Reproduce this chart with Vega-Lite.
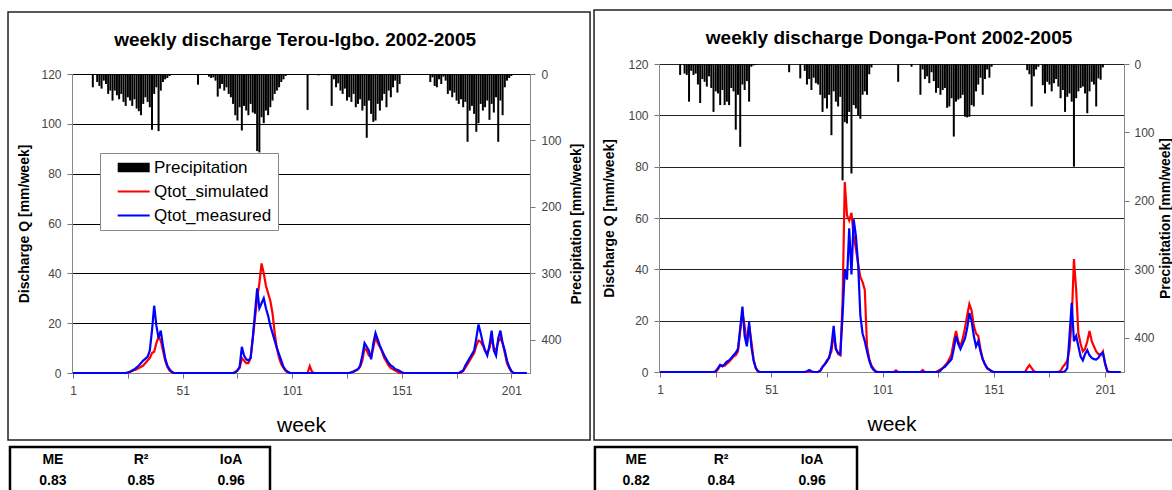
{
"$schema": "https://vega.github.io/schema/vega-lite/v6.json",
"background": "white",
"padding": {"left": 7, "top": 9, "right": 0, "bottom": 0},
"config": {"font": "Liberation Sans", "view": {"stroke": null}},
"datasets": {
"t_p": [{"w":10,"p":20},{"w":12,"p":12},{"w":13,"p":18},{"w":14,"p":22},{"w":15,"p":10},{"w":16,"p":15},{"w":17,"p":30},{"w":18,"p":25},{"w":19,"p":40},{"w":20,"p":25},{"w":21,"p":32},{"w":22,"p":38},{"w":23,"p":30},{"w":24,"p":42},{"w":25,"p":48},{"w":26,"p":35},{"w":27,"p":40},{"w":28,"p":48},{"w":29,"p":38},{"w":30,"p":52},{"w":31,"p":56},{"w":32,"p":62},{"w":33,"p":45},{"w":34,"p":35},{"w":35,"p":42},{"w":36,"p":50},{"w":37,"p":84},{"w":38,"p":30},{"w":39,"p":20},{"w":40,"p":86},{"w":41,"p":25},{"w":42,"p":12},{"w":43,"p":8},{"w":44,"p":6},{"w":45,"p":3},
{"w":58,"p":16},{"w":63,"p":4},{"w":64,"p":6},{"w":65,"p":5},{"w":66,"p":10},{"w":67,"p":34},{"w":68,"p":22},{"w":69,"p":15},{"w":70,"p":25},{"w":71,"p":20},{"w":72,"p":30},{"w":73,"p":35},{"w":74,"p":45},{"w":75,"p":62},{"w":76,"p":70},{"w":77,"p":50},{"w":78,"p":85},{"w":79,"p":48},{"w":80,"p":55},{"w":81,"p":62},{"w":82,"p":45},{"w":83,"p":58},{"w":84,"p":60},{"w":85,"p":116},{"w":86,"p":118},{"w":87,"p":65},{"w":88,"p":74},{"w":89,"p":55},{"w":90,"p":62},{"w":91,"p":50},{"w":92,"p":40},{"w":93,"p":30},{"w":94,"p":25},{"w":95,"p":20},{"w":96,"p":12},{"w":97,"p":8},{"w":98,"p":3},
{"w":108,"p":54},{"w":113,"p":2},
{"w":119,"p":48},{"w":120,"p":8},{"w":121,"p":20},{"w":122,"p":14},{"w":123,"p":25},{"w":124,"p":30},{"w":125,"p":22},{"w":126,"p":40},{"w":127,"p":35},{"w":128,"p":42},{"w":129,"p":30},{"w":130,"p":50},{"w":131,"p":45},{"w":132,"p":38},{"w":133,"p":55},{"w":134,"p":48},{"w":135,"p":96},{"w":136,"p":40},{"w":137,"p":60},{"w":138,"p":72},{"w":139,"p":70},{"w":140,"p":45},{"w":141,"p":55},{"w":142,"p":40},{"w":143,"p":30},{"w":144,"p":50},{"w":145,"p":25},{"w":146,"p":35},{"w":147,"p":20},{"w":148,"p":10},{"w":149,"p":28},{"w":150,"p":15},
{"w":164,"p":12},{"w":165,"p":5},{"w":166,"p":18},{"w":167,"p":20},{"w":168,"p":8},{"w":169,"p":15},{"w":170,"p":4},{"w":171,"p":10},{"w":172,"p":30},{"w":173,"p":25},{"w":174,"p":35},{"w":175,"p":28},{"w":176,"p":40},{"w":177,"p":45},{"w":178,"p":38},{"w":179,"p":50},{"w":180,"p":42},{"w":181,"p":102},{"w":182,"p":55},{"w":183,"p":48},{"w":184,"p":60},{"w":185,"p":87},{"w":186,"p":74},{"w":187,"p":45},{"w":188,"p":55},{"w":189,"p":50},{"w":190,"p":40},{"w":191,"p":69},{"w":192,"p":45},{"w":193,"p":58},{"w":194,"p":35},{"w":195,"p":102},{"w":196,"p":40},{"w":197,"p":62},{"w":198,"p":20},{"w":199,"p":10},{"w":200,"p":6},{"w":201,"p":3}],
"t_s": [{"w":1,"q":0},{"w":26,"q":0},{"w":27,"q":0.5},{"w":30,"q":1.5},{"w":33,"q":3},{"w":35,"q":5},{"w":36,"q":6},{"w":37,"q":8},{"w":38,"q":8.5},{"w":39,"q":12},{"w":40,"q":14.5},{"w":41,"q":13},{"w":42,"q":9},{"w":43,"q":5},{"w":44,"q":2.5},{"w":45,"q":1},{"w":46,"q":0.3},{"w":47,"q":0},
{"w":74,"q":0},{"w":75,"q":0.3},{"w":77,"q":2},{"w":78,"q":6},{"w":79,"q":5},{"w":80,"q":4},{"w":81,"q":4},{"w":82,"q":6},{"w":83,"q":14},{"w":84,"q":22},{"w":85,"q":30},{"w":86,"q":36},{"w":87,"q":44},{"w":88,"q":40},{"w":89,"q":35},{"w":90,"q":32},{"w":91,"q":29},{"w":92,"q":24},{"w":93,"q":16},{"w":94,"q":10},{"w":95,"q":6},{"w":96,"q":3.5},{"w":97,"q":2},{"w":98,"q":0.8},{"w":99,"q":0.2},{"w":100,"q":0},
{"w":108,"q":0},{"w":109,"q":2.8},{"w":110,"q":0.5},{"w":111,"q":0},
{"w":127,"q":0},{"w":128,"q":0.3},{"w":131,"q":1.5},{"w":132,"q":2.5},{"w":133,"q":5},{"w":134,"q":10},{"w":135,"q":9},{"w":136,"q":7},{"w":137,"q":6.5},{"w":138,"q":10},{"w":139,"q":14.5},{"w":140,"q":12},{"w":141,"q":10.5},{"w":142,"q":8.5},{"w":143,"q":6},{"w":144,"q":4.5},{"w":145,"q":3},{"w":146,"q":2},{"w":147,"q":1.5},{"w":148,"q":1},{"w":149,"q":0.5},{"w":150,"q":0},
{"w":178,"q":0},{"w":179,"q":0.8},{"w":181,"q":3.5},{"w":183,"q":6.5},{"w":184,"q":8},{"w":185,"q":11},{"w":186,"q":13},{"w":187,"q":12.5},{"w":188,"q":11},{"w":189,"q":9},{"w":190,"q":8},{"w":191,"q":10},{"w":192,"q":14},{"w":193,"q":10},{"w":194,"q":9},{"w":195,"q":12.5},{"w":196,"q":14},{"w":197,"q":12},{"w":198,"q":8},{"w":199,"q":4},{"w":200,"q":2},{"w":201,"q":0.5},{"w":202,"q":0},{"w":208,"q":0}],
"t_m": [{"w":1,"q":0},{"w":25,"q":0},{"w":27,"q":0.5},{"w":29,"q":1.5},{"w":31,"q":3},{"w":33,"q":5},{"w":35,"q":6.5},{"w":36,"q":9},{"w":37,"q":17},{"w":38,"q":27},{"w":39,"q":19},{"w":40,"q":14},{"w":41,"q":17},{"w":42,"q":11},{"w":43,"q":6},{"w":44,"q":3},{"w":45,"q":1.5},{"w":46,"q":0.5},{"w":47,"q":0},
{"w":74,"q":0},{"w":75,"q":0.3},{"w":76,"q":1},{"w":77,"q":2.5},{"w":78,"q":10.5},{"w":79,"q":7},{"w":80,"q":5.5},{"w":81,"q":5},{"w":82,"q":6},{"w":83,"q":14},{"w":84,"q":24},{"w":85,"q":34},{"w":86,"q":26},{"w":87,"q":28},{"w":88,"q":30},{"w":89,"q":26},{"w":90,"q":23},{"w":91,"q":19},{"w":92,"q":16},{"w":93,"q":13},{"w":94,"q":10},{"w":95,"q":7.5},{"w":96,"q":5},{"w":97,"q":2.5},{"w":98,"q":1.2},{"w":99,"q":0.5},{"w":100,"q":0},
{"w":127,"q":0},{"w":129,"q":0.5},{"w":131,"q":1.5},{"w":132,"q":3},{"w":133,"q":7},{"w":134,"q":12},{"w":135,"q":10.5},{"w":136,"q":9},{"w":137,"q":5.5},{"w":138,"q":12},{"w":139,"q":16},{"w":140,"q":13.5},{"w":141,"q":11},{"w":142,"q":9},{"w":143,"q":7},{"w":144,"q":5.5},{"w":145,"q":4},{"w":146,"q":3},{"w":147,"q":2.5},{"w":148,"q":1.5},{"w":149,"q":1.3},{"w":150,"q":0.8},{"w":151,"q":0.3},{"w":152,"q":0},
{"w":177,"q":0},{"w":179,"q":1},{"w":180,"q":3},{"w":181,"q":4.5},{"w":182,"q":6},{"w":183,"q":7.5},{"w":184,"q":9},{"w":185,"q":14},{"w":186,"q":19.5},{"w":187,"q":16},{"w":188,"q":12},{"w":189,"q":9},{"w":190,"q":7},{"w":191,"q":11},{"w":192,"q":17},{"w":193,"q":9},{"w":194,"q":7},{"w":195,"q":14},{"w":196,"q":17},{"w":197,"q":12},{"w":198,"q":9},{"w":199,"q":5},{"w":200,"q":2.5},{"w":201,"q":0.8},{"w":202,"q":0},{"w":208,"q":0}],
"d_p": [{"w":10,"p":16},{"w":12,"p":14},{"w":13,"p":16},{"w":14,"p":55},{"w":15,"p":10},{"w":16,"p":16},{"w":17,"p":14},{"w":18,"p":30},{"w":19,"p":57},{"w":20,"p":22},{"w":21,"p":26},{"w":22,"p":33},{"w":23,"p":18},{"w":24,"p":35},{"w":25,"p":70},{"w":26,"p":40},{"w":27,"p":43},{"w":28,"p":60},{"w":29,"p":38},{"w":30,"p":60},{"w":31,"p":55},{"w":32,"p":60},{"w":33,"p":35},{"w":34,"p":40},{"w":35,"p":96},{"w":36,"p":45},{"w":37,"p":121},{"w":38,"p":30},{"w":39,"p":38},{"w":40,"p":25},{"w":41,"p":55},{"w":42,"p":4},{"w":43,"p":2},{"w":44,"p":1.5},
{"w":59,"p":12},{"w":64,"p":21},{"w":66,"p":10},{"w":67,"p":30},{"w":68,"p":22},{"w":69,"p":38},{"w":70,"p":20},{"w":71,"p":28},{"w":72,"p":30},{"w":73,"p":45},{"w":74,"p":70},{"w":75,"p":50},{"w":76,"p":65},{"w":77,"p":45},{"w":78,"p":104},{"w":79,"p":40},{"w":80,"p":55},{"w":81,"p":62},{"w":82,"p":48},{"w":83,"p":170},{"w":84,"p":85},{"w":85,"p":87},{"w":86,"p":70},{"w":87,"p":160},{"w":88,"p":60},{"w":89,"p":65},{"w":90,"p":75},{"w":91,"p":80},{"w":92,"p":45},{"w":93,"p":40},{"w":94,"p":45},{"w":95,"p":15},{"w":96,"p":5},
{"w":108,"p":26},{"w":114,"p":4},
{"w":118,"p":45},{"w":119,"p":8},{"w":120,"p":22},{"w":121,"p":18},{"w":122,"p":28},{"w":123,"p":12},{"w":124,"p":25},{"w":125,"p":42},{"w":126,"p":35},{"w":127,"p":45},{"w":128,"p":38},{"w":129,"p":35},{"w":130,"p":64},{"w":131,"p":62},{"w":132,"p":50},{"w":133,"p":106},{"w":134,"p":55},{"w":135,"p":52},{"w":136,"p":50},{"w":137,"p":45},{"w":138,"p":77},{"w":139,"p":78},{"w":140,"p":77},{"w":141,"p":60},{"w":142,"p":62},{"w":143,"p":40},{"w":144,"p":30},{"w":145,"p":20},{"w":146,"p":45},{"w":147,"p":22},{"w":148,"p":8},{"w":149,"p":20},{"w":150,"p":4},
{"w":166,"p":9},{"w":167,"p":15},{"w":168,"p":62},{"w":169,"p":18},{"w":170,"p":8},{"w":171,"p":4},{"w":173,"p":31},{"w":174,"p":43},{"w":175,"p":26},{"w":176,"p":30},{"w":177,"p":40},{"w":178,"p":28},{"w":179,"p":22},{"w":180,"p":33},{"w":181,"p":50},{"w":182,"p":38},{"w":183,"p":70},{"w":184,"p":48},{"w":185,"p":43},{"w":186,"p":55},{"w":187,"p":150},{"w":188,"p":50},{"w":189,"p":40},{"w":190,"p":35},{"w":191,"p":33},{"w":192,"p":43},{"w":193,"p":72},{"w":194,"p":40},{"w":195,"p":26},{"w":196,"p":30},{"w":197,"p":62},{"w":198,"p":21},{"w":199,"p":23},{"w":200,"p":5}],
"d_s": [{"w":1,"q":0},{"w":26,"q":0},{"w":27,"q":1},{"w":28,"q":2.5},{"w":30,"q":2.5},{"w":32,"q":4},{"w":34,"q":6},{"w":35,"q":6.5},{"w":36,"q":8},{"w":37,"q":16},{"w":38,"q":23},{"w":39,"q":18},{"w":40,"q":11},{"w":41,"q":18},{"w":42,"q":12},{"w":43,"q":5},{"w":44,"q":1.5},{"w":45,"q":0.3},{"w":46,"q":0},
{"w":72,"q":0},{"w":73,"q":0.5},{"w":74,"q":2},{"w":76,"q":4},{"w":78,"q":8},{"w":79,"q":15},{"w":80,"q":9},{"w":81,"q":7},{"w":82,"q":6.5},{"w":83,"q":27},{"w":84,"q":74},{"w":85,"q":61},{"w":86,"q":59},{"w":87,"q":62},{"w":88,"q":53},{"w":89,"q":48},{"w":90,"q":42},{"w":91,"q":37},{"w":92,"q":35},{"w":93,"q":32},{"w":94,"q":10},{"w":95,"q":5},{"w":96,"q":2.5},{"w":97,"q":1.2},{"w":98,"q":0.3},{"w":99,"q":0},
{"w":106,"q":0},{"w":107,"q":0.6},{"w":108,"q":0},{"w":118,"q":0},{"w":119,"q":0.8},{"w":120,"q":0},
{"w":125,"q":0},{"w":126,"q":0.5},{"w":127,"q":1},{"w":128,"q":1.5},{"w":129,"q":2.5},{"w":130,"q":3.5},{"w":131,"q":5},{"w":132,"q":7},{"w":133,"q":12},{"w":134,"q":16},{"w":135,"q":12},{"w":136,"q":10},{"w":137,"q":13},{"w":138,"q":17},{"w":139,"q":22},{"w":140,"q":26.5},{"w":141,"q":24},{"w":142,"q":18},{"w":143,"q":15},{"w":144,"q":14},{"w":145,"q":9},{"w":146,"q":5},{"w":147,"q":3},{"w":148,"q":1.5},{"w":149,"q":1},{"w":150,"q":0.3},{"w":151,"q":0},
{"w":165,"q":0},{"w":166,"q":1.5},{"w":167,"q":2.7},{"w":168,"q":1.5},{"w":169,"q":0.3},{"w":170,"q":0},{"w":180,"q":0},{"w":181,"q":0.5},{"w":182,"q":2},{"w":183,"q":3},{"w":184,"q":4.5},{"w":185,"q":9},{"w":186,"q":20},{"w":187,"q":44},{"w":188,"q":32},{"w":189,"q":15},{"w":190,"q":11},{"w":191,"q":8},{"w":192,"q":9},{"w":193,"q":12},{"w":194,"q":16},{"w":195,"q":12},{"w":196,"q":10},{"w":197,"q":8},{"w":198,"q":7},{"w":199,"q":6.5},{"w":200,"q":8},{"w":201,"q":3},{"w":202,"q":0.3},{"w":203,"q":0},{"w":208,"q":0}],
"d_m": [{"w":1,"q":0},{"w":25,"q":0},{"w":26,"q":0.3},{"w":27,"q":1.5},{"w":28,"q":2.8},{"w":29,"q":2.2},{"w":30,"q":3},{"w":31,"q":4},{"w":32,"q":4.5},{"w":33,"q":5.5},{"w":34,"q":6.5},{"w":35,"q":7.5},{"w":36,"q":9},{"w":37,"q":17},{"w":38,"q":25.5},{"w":39,"q":14},{"w":40,"q":10},{"w":41,"q":19.5},{"w":42,"q":10},{"w":43,"q":4.5},{"w":44,"q":1.5},{"w":45,"q":0.2},{"w":46,"q":0},
{"w":66,"q":0},{"w":67,"q":0.3},{"w":68,"q":0.8},{"w":69,"q":0.3},{"w":70,"q":0},{"w":72,"q":0},{"w":73,"q":0.5},{"w":74,"q":2},{"w":75,"q":3},{"w":76,"q":4.5},{"w":77,"q":5.5},{"w":78,"q":10},{"w":79,"q":18},{"w":80,"q":9},{"w":81,"q":7.5},{"w":82,"q":7},{"w":83,"q":22},{"w":84,"q":40},{"w":85,"q":36},{"w":86,"q":56},{"w":87,"q":38},{"w":88,"q":59.5},{"w":89,"q":53},{"w":90,"q":42},{"w":91,"q":22},{"w":92,"q":15},{"w":93,"q":12},{"w":94,"q":8},{"w":95,"q":4.5},{"w":96,"q":2},{"w":97,"q":0.8},{"w":98,"q":0},
{"w":126,"q":0},{"w":127,"q":0.5},{"w":128,"q":1.5},{"w":129,"q":2},{"w":130,"q":3},{"w":131,"q":4},{"w":132,"q":5},{"w":133,"q":9},{"w":134,"q":14},{"w":135,"q":11},{"w":136,"q":9},{"w":137,"q":11},{"w":138,"q":13},{"w":139,"q":17},{"w":140,"q":23},{"w":141,"q":20},{"w":142,"q":14},{"w":143,"q":10},{"w":144,"q":12},{"w":145,"q":8},{"w":146,"q":5},{"w":147,"q":3},{"w":148,"q":1.5},{"w":149,"q":0.8},{"w":150,"q":0.3},{"w":151,"q":0},
{"w":182,"q":0},{"w":183,"q":0.3},{"w":184,"q":1.5},{"w":185,"q":14},{"w":186,"q":27},{"w":187,"q":12},{"w":188,"q":14},{"w":189,"q":10},{"w":190,"q":6},{"w":191,"q":4.5},{"w":192,"q":7},{"w":193,"q":8.5},{"w":194,"q":6.5},{"w":195,"q":5.5},{"w":196,"q":5},{"w":197,"q":4.8},{"w":198,"q":5.5},{"w":199,"q":7},{"w":200,"q":7.5},{"w":201,"q":3.5},{"w":202,"q":0.3},{"w":203,"q":0},{"w":208,"q":0}],
"t_stats": [{"k":"ME","t":["ME","0.83"]},{"k":"R2","t":["R²","0.85"]},{"k":"IoA","t":["IoA","0.96"]}],
"d_stats": [{"k":"ME","t":["ME","0.82"]},{"k":"R2","t":["R²","0.84"]},{"k":"IoA","t":["IoA","0.96"]}]
},
"hconcat": [
{
"width": 458, "height": 309,
"layer": [
 {"data": {"name": "t_p"}, "mark": {"type": "bar", "width": 2},
  "encoding": {
   "x": {"field": "w", "type": "quantitative", "title": "week", "scale": {"domain": [0.5, 209.5], "nice": false, "zero": false, "padding": 0},
     "axis": {"values": [1,26,51,76,101,126,151,176,201], "labelExpr": "(datum.value - 1) % 50 === 0 ? datum.label : ''", "title": "week", "titleFontSize": 21, "titleFontWeight": "normal", "titleColor": "#000", "titlePadding": 18, "labelFontSize": 12, "labelColor": "#444", "labelPadding": 7, "labelFlush": false, "labelOverlap": false, "tickSize": 5, "tickColor": "#777", "domainColor": "#888", "grid": false}},
   "y": {"field": "p", "type": "quantitative", "scale": {"domain": [0, 450], "range": [10, 309], "nice": false},
     "axis": {"orient": "right", "values": [0,100,200,300,400], "grid": false, "title": "Precipitation [mm/week]", "titleAngle": -90, "titleBaseline": "top", "titleFontSize": 14, "titleFontWeight": "bold", "titleColor": "#000", "titlePadding": 8, "labelFontSize": 12, "labelColor": "#444", "labelPadding": 6, "tickSize": 5, "tickColor": "#777", "domainColor": "#888"}},
   "color": {"datum": "Precipitation", "type": "nominal", "scale": {"domain": ["Precipitation", "Qtot_simulated", "Qtot_measured"], "range": ["#000000", "#ff0000", "#0000ff"]},
     "legend": {"orient": "none", "legendX": 28, "legendY": 89, "title": null, "direction": "vertical", "fillColor": "white", "strokeColor": "#888", "padding": 6, "labelFontSize": 17, "labelColor": "#000", "symbolSize": 256, "labelOffset": 31, "rowPadding": 6,
       "encode": {"symbols": {"update": {
         "shape": {"signal": "datum.value === 'Precipitation' ? 'M0.4,-0.6H4.4V0.6H0.4Z' : 'M0.4,-0.12H4.4V0.12H0.4Z'"},
         "fill": {"signal": "datum.value === 'Precipitation' ? '#000' : datum.value === 'Qtot_simulated' ? '#ff0000' : '#0000ff'"},
         "stroke": {"value": "transparent"}, "strokeWidth": {"value": 0}, "opacity": {"value": 1}, "fillOpacity": {"value": 1}}}}}}
  }},
 {"layer": [
   {"data": {"name": "t_s"}, "mark": {"type": "line", "strokeWidth": 2.2},
    "encoding": {"x": {"field": "w", "type": "quantitative", "title": "week"},
     "y": {"field": "q", "type": "quantitative", "scale": {"domain": [0, 120], "range": [309, 10], "nice": false},
      "axis": {"orient": "left", "values": [0,20,40,60,80,100,120], "grid": true, "gridColor": "#000", "gridWidth": 1, "title": "Discharge Q [mm/week]", "titleFontSize": 14, "titleFontWeight": "bold", "titleColor": "#000", "titlePadding": 9, "labelFontSize": 12, "labelColor": "#444", "labelPadding": 6, "tickSize": 5, "tickColor": "#777", "domainColor": "#888"}},
     "color": {"datum": "Qtot_simulated", "type": "nominal"}}},
   {"data": {"name": "t_m"}, "mark": {"type": "line", "strokeWidth": 2.2},
    "encoding": {"x": {"field": "w", "type": "quantitative", "title": "week"}, "y": {"field": "q", "type": "quantitative"}, "color": {"datum": "Qtot_measured", "type": "nominal"}}},
   {"data": {"values": [{}]}, "mark": {"type": "rect", "fill": "transparent", "stroke": "#222", "strokeWidth": 1.5, "clip": false},
    "encoding": {"x": {"datum": -28.7}, "x2": {"datum": 236.9}, "y": {"datum": 144.9}, "y2": {"datum": -26.9}}},
   {"data": {"values": [{}]}, "mark": {"type": "text", "fontSize": 19, "fontWeight": "bold", "align": "center", "baseline": "middle", "color": "#000", "clip": false},
    "encoding": {"x": {"datum": 102.3}, "y": {"datum": 133.6}, "text": {"value": "weekly discharge Terou-Igbo. 2002-2005"}}},
   {"data": {"values": [{}]}, "mark": {"type": "rect", "fill": "transparent", "stroke": "#000", "strokeWidth": 2.5, "clip": false},
    "encoding": {"x": {"datum": -27.8}, "x2": {"datum": 90.85}, "y": {"datum": -29.7}, "y2": {"datum": -48.6}}},
   {"data": {"name": "t_stats"}, "transform": [{"filter": {"field": "k", "equal": "ME"}}],
    "mark": {"type": "text", "fontSize": 14, "fontWeight": "bold", "align": "center", "baseline": "middle", "lineHeight": 21, "color": "#000", "clip": false},
    "encoding": {"x": {"datum": -8.2}, "y": {"datum": -34.9}, "text": {"field": "t", "type": "nominal"}}},
   {"data": {"name": "t_stats"}, "transform": [{"filter": {"field": "k", "equal": "R2"}}],
    "mark": {"type": "text", "fontSize": 14, "fontWeight": "bold", "align": "center", "baseline": "middle", "lineHeight": 21, "color": "#000", "clip": false},
    "encoding": {"x": {"datum": 32.0}, "y": {"datum": -34.9}, "text": {"field": "t", "type": "nominal"}}},
   {"data": {"name": "t_stats"}, "transform": [{"filter": {"field": "k", "equal": "IoA"}}],
    "mark": {"type": "text", "fontSize": 14, "fontWeight": "bold", "align": "center", "baseline": "middle", "lineHeight": 21, "color": "#000", "clip": false},
    "encoding": {"x": {"datum": 73.1}, "y": {"datum": -34.9}, "text": {"field": "t", "type": "nominal"}}}
 ]}
],
"resolve": {"scale": {"y": "independent"}}
},
{
"width": 465, "height": 308,
"layer": [
 {"data": {"name": "d_p"}, "mark": {"type": "bar", "width": 2},
  "encoding": {
   "x": {"field": "w", "type": "quantitative", "title": "week", "scale": {"domain": [0.5, 209.5], "nice": false, "zero": false, "padding": 0},
     "axis": {"values": [1,26,51,76,101,126,151,176,201], "labelExpr": "(datum.value - 1) % 50 === 0 ? datum.label : ''", "title": "week", "titleFontSize": 21, "titleFontWeight": "normal", "titleColor": "#000", "titlePadding": 18, "labelFontSize": 12, "labelColor": "#444", "labelPadding": 7, "labelFlush": false, "labelOverlap": false, "tickSize": 5, "tickColor": "#777", "domainColor": "#888", "grid": false}},
   "y": {"field": "p", "type": "quantitative", "scale": {"domain": [0, 450], "reverse": true, "nice": false},
     "axis": {"orient": "right", "values": [0,100,200,300,400], "grid": false, "title": "Precipitation [mm/week]", "titleAngle": -90, "titleBaseline": "top", "titleFontSize": 14, "titleFontWeight": "bold", "titleColor": "#000", "titlePadding": 4, "labelFontSize": 12, "labelColor": "#444", "labelPadding": 5, "tickSize": 5, "tickColor": "#777", "domainColor": "#888"}},
   "color": {"datum": "Precipitation", "type": "nominal", "scale": {"domain": ["Precipitation", "Qtot_simulated", "Qtot_measured"], "range": ["#000000", "#ff0000", "#0000ff"]}, "legend": null}
  }},
 {"layer": [
   {"data": {"name": "d_s"}, "mark": {"type": "line", "strokeWidth": 2.2},
    "encoding": {"x": {"field": "w", "type": "quantitative", "title": "week"},
     "y": {"field": "q", "type": "quantitative", "scale": {"domain": [0, 120], "nice": false},
      "axis": {"orient": "left", "values": [0,20,40,60,80,100,120], "grid": true, "gridColor": "#222", "gridWidth": 1, "title": "Discharge Q [mm/week]", "titleFontSize": 14, "titleFontWeight": "bold", "titleColor": "#000", "titlePadding": 11, "labelFontSize": 12, "labelColor": "#444", "labelPadding": 6, "tickSize": 5, "tickColor": "#777", "domainColor": "#888"}},
     "color": {"datum": "Qtot_simulated", "type": "nominal", "legend": null}}},
   {"data": {"name": "d_m"}, "mark": {"type": "line", "strokeWidth": 2.2},
    "encoding": {"x": {"field": "w", "type": "quantitative", "title": "week"}, "y": {"field": "q", "type": "quantitative"}, "color": {"datum": "Qtot_measured", "type": "nominal", "legend": null}}},
   {"data": {"values": [{}]}, "mark": {"type": "rect", "fill": "transparent", "stroke": "#222", "strokeWidth": 1.5, "clip": false},
    "encoding": {"x": {"datum": -28.7}, "x2": {"datum": 237.4}, "y": {"datum": 141.0}, "y2": {"datum": -26.5}}},
   {"data": {"values": [{}]}, "mark": {"type": "text", "fontSize": 19, "fontWeight": "bold", "align": "center", "baseline": "middle", "color": "#000", "clip": false},
    "encoding": {"x": {"datum": 103.9}, "y": {"datum": 130.1}, "text": {"value": "weekly discharge Donga-Pont 2002-2005"}}},
   {"data": {"values": [{}]}, "mark": {"type": "rect", "fill": "transparent", "stroke": "#000", "strokeWidth": 2.5, "clip": false},
    "encoding": {"x": {"datum": -28.3}, "x2": {"datum": 89.5}, "y": {"datum": -29.2}, "y2": {"datum": -47.5}}},
   {"data": {"name": "d_stats"}, "transform": [{"filter": {"field": "k", "equal": "ME"}}],
    "mark": {"type": "text", "fontSize": 14, "fontWeight": "bold", "align": "center", "baseline": "middle", "lineHeight": 21, "color": "#000", "clip": false},
    "encoding": {"x": {"datum": -9.8}, "y": {"datum": -34.3}, "text": {"field": "t", "type": "nominal"}}},
   {"data": {"name": "d_stats"}, "transform": [{"filter": {"field": "k", "equal": "R2"}}],
    "mark": {"type": "text", "fontSize": 14, "fontWeight": "bold", "align": "center", "baseline": "middle", "lineHeight": 21, "color": "#000", "clip": false},
    "encoding": {"x": {"datum": 28.4}, "y": {"datum": -34.3}, "text": {"field": "t", "type": "nominal"}}},
   {"data": {"name": "d_stats"}, "transform": [{"filter": {"field": "k", "equal": "IoA"}}],
    "mark": {"type": "text", "fontSize": 14, "fontWeight": "bold", "align": "center", "baseline": "middle", "lineHeight": 21, "color": "#000", "clip": false},
    "encoding": {"x": {"datum": 69.3}, "y": {"datum": -34.3}, "text": {"field": "t", "type": "nominal"}}}
 ]}
],
"resolve": {"scale": {"y": "independent"}}
}
],
"spacing": 2,
"resolve": {"scale": {"color": "independent"}, "legend": {"color": "independent"}}
}
